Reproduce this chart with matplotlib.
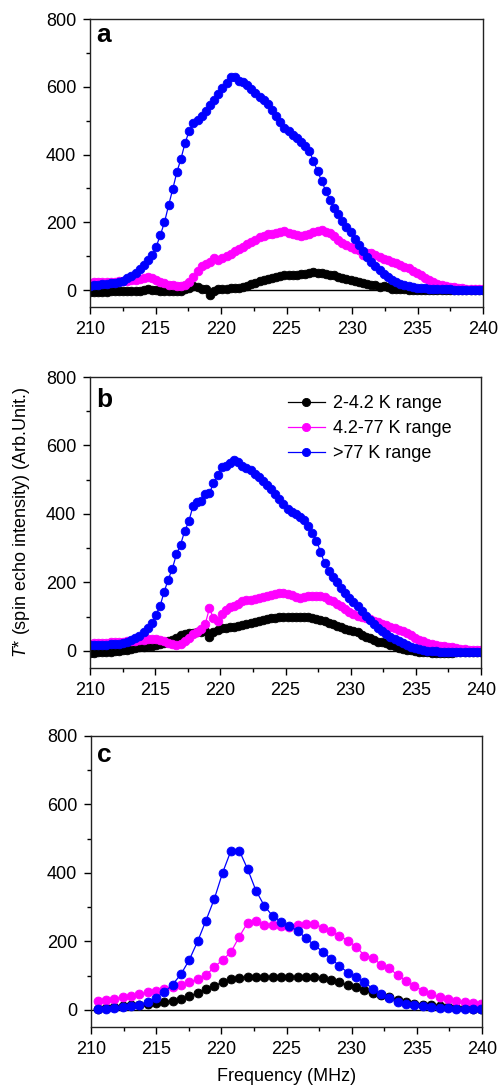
import numpy as np
import matplotlib
matplotlib.use("Agg")
import matplotlib.pyplot as plt
from matplotlib.ticker import MultipleLocator

plt.rcParams['font.family'] = ['Liberation Sans', 'DejaVu Sans']
plt.rcParams['mathtext.fontset'] = 'custom'
plt.rcParams['mathtext.it'] = 'Liberation Sans:italic'
plt.rcParams['mathtext.rm'] = 'Liberation Sans'

# ---------------- data ----------------
# frequency sampling grid (MHz) for panels a and b
freq_ab = np.linspace(210, 240, 96)
# frequency sampling grid (MHz) for panel c
freq_c = np.linspace(210.5, 239.94, 47)

series_labels = ["2-4.2 K range", "4.2-77 K range", ">77 K range"]
series_colors = ["#000000", "#ff00ff", "#0000ff"]

a_low = [-6, -6, -5, -5, -5, -4, -4, -4, -4, -3, -3, -3, -2, 0, 2, 1, -1, -3, -3, -3,
         -3, -2, -2, 2, 6, 11, 8, 4, 2, -16, -4, 3, 3, 3, 5, 6, 7, 10, 13, 17,
         22, 26, 30, 34, 37, 40, 42, 44, 44, 45, 45, 46, 48, 51, 53, 51, 49, 47, 45, 43,
         40, 37, 34, 30, 27, 24, 20, 17, 14, 16, 10, 12, 8, 4, 3, 3, 2, 1, 0, 0,
         0, 0, 0, 0, 0, 0, 0, 0, 0, 0, 0, 0, 0, 0, 0, 0]
a_mid = [22, 23, 23, 24, 24, 25, 25, 26, 27, 28, 29, 30, 33, 36, 38, 35, 30, 24, 20, 16,
         14, 13, 13, 15, 25, 40, 56, 70, 77, 84, 96, 88, 95, 100, 106, 114, 120, 128, 136, 142,
         148, 156, 160, 164, 166, 169, 172, 174, 168, 164, 162, 161, 163, 165, 170, 175, 176, 172, 168, 161,
         148, 140, 132, 127, 122, 118, 104, 110, 108, 103, 97, 93, 88, 84, 79, 75, 69, 64, 57, 50,
         43, 37, 30, 24, 19, 15, 13, 10, 9, 7, 5, 4, 4, 3, 3, 2]
a_high = [13, 14, 15, 17, 18, 20, 22, 25, 28, 35, 42, 51, 63, 75, 89, 103, 128, 162, 200, 250,
          298, 348, 388, 435, 470, 492, 503, 515, 528, 545, 560, 580, 596, 612, 628, 630, 618, 614, 606, 594,
          582, 570, 561, 548, 532, 515, 495, 478, 470, 459, 448, 436, 424, 410, 382, 350, 322, 292, 265, 241,
          225, 204, 185, 170, 152, 133, 116, 97, 82, 70, 58, 47, 38, 30, 24, 19, 14, 11, 9, 7,
          6, 5, 4, 3, 3, 2, 2, 2, 1, 1, 1, 1, 1, 1, 1, 1]

b_low = [-5, -5, -4, -4, -3, -2, 0, 1, 3, 4, 6, 8, 10, 12, 13, 14, 16, 19, 22, 28,
         33, 39, 45, 48, 51, 53, 54, 55, 57, 40, 56, 61, 66, 68, 69, 70, 72, 75, 78, 81,
         84, 88, 90, 93, 96, 97, 98, 99, 99, 99, 99, 99, 99, 98, 97, 94, 91, 87, 82, 78,
         73, 69, 65, 62, 58, 54, 46, 41, 37, 32, 27, 25, 23, 18, 14, 8, 6, 3, 2, 0,
         -2, -3, -4, -5, -5, -5, -5, -5, -5, -4, -4, -4, -4, -4, -3, -3]
b_mid = [21, 22, 23, 23, 24, 25, 26, 26, 27, 28, 29, 30, 32, 33, 34, 35, 34, 31, 28, 24,
         21, 18, 19, 28, 38, 48, 55, 63, 78, 124, 96, 88, 108, 120, 128, 132, 138, 146, 149, 150,
         152, 155, 158, 160, 163, 165, 168, 170, 166, 162, 157, 154, 157, 159, 160, 160, 159, 156, 150, 145,
         138, 130, 123, 114, 107, 102, 98, 96, 92, 88, 84, 79, 75, 70, 66, 61, 58, 53, 46, 39,
         33, 28, 23, 20, 17, 15, 13, 11, 10, 8, 6, 5, 4, 3, 3, 2]
b_high = [17, 17, 17, 17, 18, 19, 20, 21, 23, 27, 31, 37, 44, 56, 68, 80, 106, 130, 172, 208,
          240, 282, 310, 350, 378, 422, 435, 438, 458, 460, 490, 515, 538, 540, 550, 558, 552, 540, 535, 529,
          518, 507, 496, 485, 472, 458, 444, 430, 415, 405, 399, 392, 382, 364, 345, 322, 290, 256, 233, 216,
          200, 185, 168, 154, 142, 130, 116, 101, 89, 78, 68, 59, 50, 42, 35, 28, 22, 17, 12, 8,
          5, 3, 1, 0, -1, -2, -3, -4, -4, -4, -4, -4, -3, -3, -2, -2]

c_low = [4, 5, 7, 11, 13, 14, 16, 19, 22, 27, 33, 40, 49, 61, 71, 80, 89, 94, 96, 96,
         96, 96, 96, 96, 97, 96, 95, 93, 88, 80, 72, 66, 59, 49, 44, 37, 29, 23, 18, 15,
         13, 10, 8, 6, 5, 4, 3]
c_mid = [26, 29, 32, 37, 41, 45, 51, 55, 60, 66, 73, 80, 90, 101, 125, 146, 169, 214, 255, 260,
         247, 248, 246, 243, 247, 250, 251, 240, 231, 217, 202, 185, 158, 153, 131, 121, 101, 85, 70, 56,
         46, 37, 31, 26, 23, 19, 17]
c_high = [3, 4, 5, 8, 10, 15, 23, 36, 51, 74, 104, 146, 200, 261, 324, 401, 465, 465, 411, 348,
          304, 274, 258, 245, 231, 209, 189, 170, 149, 129, 109, 97, 80, 62, 47, 34, 24, 17, 14, 10,
          8, 6, 5, 4, 3, 3, 2]

panels = [
    ("a", freq_ab, [a_low, a_mid, a_high], 6.2, 0.921),
    ("b", freq_ab, [b_low, b_mid, b_high], 6.2, 0.897),
    ("c", freq_c, [c_low, c_mid, c_high], 6.4, 0.912),
]

# ---------------- figure ----------------
W, H = 500, 1088
fig = plt.figure(figsize=(W / 100, H / 100), dpi=100)

boxes = [(90, 19, 483, 307), (90, 377, 481, 668), (91, 736, 482, 1027)]
axes = []
for (x0, y0, x1, y1) in boxes:
    ax = fig.add_axes([x0 / W, 1 - y1 / H, (x1 - x0) / W, (y1 - y0) / H])
    axes.append(ax)

FS = 13
for ax, (letter, fx, ys, ms, ly) in zip(axes, panels):
    ax.axhline(0, color='black', lw=1.0, zorder=1)
    for y, col, lab in zip(ys, series_colors, series_labels):
        ax.plot(fx, y, '-o', color=col, mfc=col, mec=col, ms=ms, mew=0.6, lw=0.9,
                label=lab, zorder=2)
    ax.set_xlim(210, 240)
    ax.set_ylim(-50, 800)
    ax.xaxis.set_major_locator(MultipleLocator(5))
    ax.xaxis.set_minor_locator(MultipleLocator(2.5))
    ax.yaxis.set_major_locator(MultipleLocator(200))
    ax.yaxis.set_minor_locator(MultipleLocator(100))
    ax.tick_params(which='both', direction='out', top=False, right=False,
                   labelsize=FS, width=1.0, colors='black')
    ax.tick_params(which='major', length=5, pad=5)
    ax.tick_params(which='minor', length=3)
    for s in ax.spines.values():
        s.set_linewidth(1.0)
        s.set_color('#222222')
    ax.text(0.016, ly, letter, transform=ax.transAxes, ha='left', va='baseline',
            fontsize=19, fontweight='bold')

axes[1].set_ylabel(r'$T$* (spin echo intensity) (Arb.Unit.)', fontsize=FS)
axes[1].yaxis.set_label_coords(-0.148, 0.5)
axes[2].set_xlabel('Frequency (MHz)', fontsize=FS, labelpad=7)

leg = axes[1].legend(loc='upper left', bbox_to_anchor=(0.506, 0.938), frameon=False,
                     fontsize=FS, handlelength=2.05, handletextpad=0.45,
                     labelspacing=0.45, borderpad=0, borderaxespad=0, markerscale=0.95)

fig.savefig('out.png', dpi=100)
